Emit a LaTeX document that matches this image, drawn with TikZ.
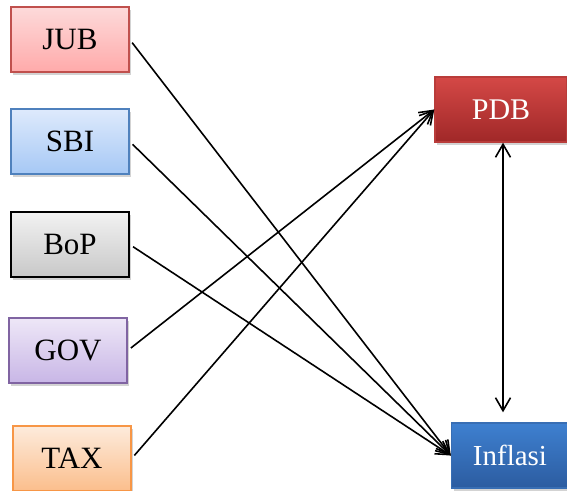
\documentclass[tikz,border=0pt]{standalone}
\usepackage{fontspec}
\setmainfont{Liberation Serif}
\usetikzlibrary{arrows.meta,shadows}

% box palettes
\definecolor{jubT}{RGB}{253,218,218}\definecolor{jubB}{RGB}{255,170,170}\definecolor{jubD}{RGB}{192,80,77}
\definecolor{sbiT}{RGB}{222,234,252}\definecolor{sbiB}{RGB}{166,200,245}\definecolor{sbiD}{RGB}{79,129,189}
\definecolor{bopT}{RGB}{242,242,242}\definecolor{bopB}{RGB}{200,200,200}
\definecolor{govT}{RGB}{238,231,247}\definecolor{govB}{RGB}{200,182,230}\definecolor{govD}{RGB}{128,100,162}
\definecolor{taxT}{RGB}{253,235,220}\definecolor{taxB}{RGB}{251,190,140}\definecolor{taxD}{RGB}{247,150,70}
\definecolor{pdbT}{RGB}{212,72,70}\definecolor{pdbB}{RGB}{160,40,40}\definecolor{pdbD}{RGB}{185,60,58}
\definecolor{infT}{RGB}{62,128,208}\definecolor{infB}{RGB}{44,92,160}\definecolor{infD}{RGB}{56,110,180}

\tikzset{
  varbox/.style={rectangle, line width=1.4pt, minimum height=65pt, minimum width=118pt,
    inner sep=0pt, font=\fontsize{31}{31}\selectfont,
    drop shadow={shadow xshift=2pt, shadow yshift=-3pt, opacity=0.35}},
  tip/.tip={Straight Barb[length=13pt,width=15pt,line width=1.6pt]},
  link/.style={line width=1.6pt, -tip, shorten <=4pt},
  both/.style={line width=1.6pt, tip-tip}
}

\begin{document}
\begin{tikzpicture}[x=1pt,y=-1pt]
\useasboundingbox (0,0) rectangle (567,490);
\begin{scope}
\clip (0,0) rectangle (567,490);

% explanatory variables
\node[varbox, draw=jubD, top color=jubT, bottom color=jubB] (jub) at (70,39.5) {JUB};
\node[varbox, draw=sbiD, top color=sbiT, bottom color=sbiB] (sbi) at (70,141.5) {SBI};
\node[varbox, draw=black, top color=bopT, bottom color=bopB] (bop) at (70,244.5) {BoP};
\node[varbox, draw=govD, top color=govT, bottom color=govB] (gov) at (68,350.5) {GOV};
\node[varbox, draw=taxD, top color=taxT, bottom color=taxB] (tax) at (72,458.5) {TAX};

% targets
\node[varbox, minimum width=132pt, draw=pdbD, top color=pdbT, bottom color=pdbB, text=white,
  font=\fontsize{30}{30}\selectfont] (pdb) at (501,109.5) {PDB};
\node[varbox, minimum width=117pt, draw=infD, top color=infT, bottom color=infB, text=white,
  font=\fontsize{29}{29}\selectfont] (inf) at (510,455.5) {Inflasi};

% links
\draw[link] (jub.east) -- (inf.west);
\draw[link] (sbi.east) -- (inf.west);
\draw[link] (bop.east) -- (inf.west);
\draw[link] (gov.east) -- (pdb.west);
\draw[link] (tax.east) -- (pdb.west);
\draw[both, shorten >=10pt] ([xshift=2pt]pdb.south) -- ([xshift=2pt]pdb.south |- inf.north);
\end{scope}
\end{tikzpicture}
\end{document}
